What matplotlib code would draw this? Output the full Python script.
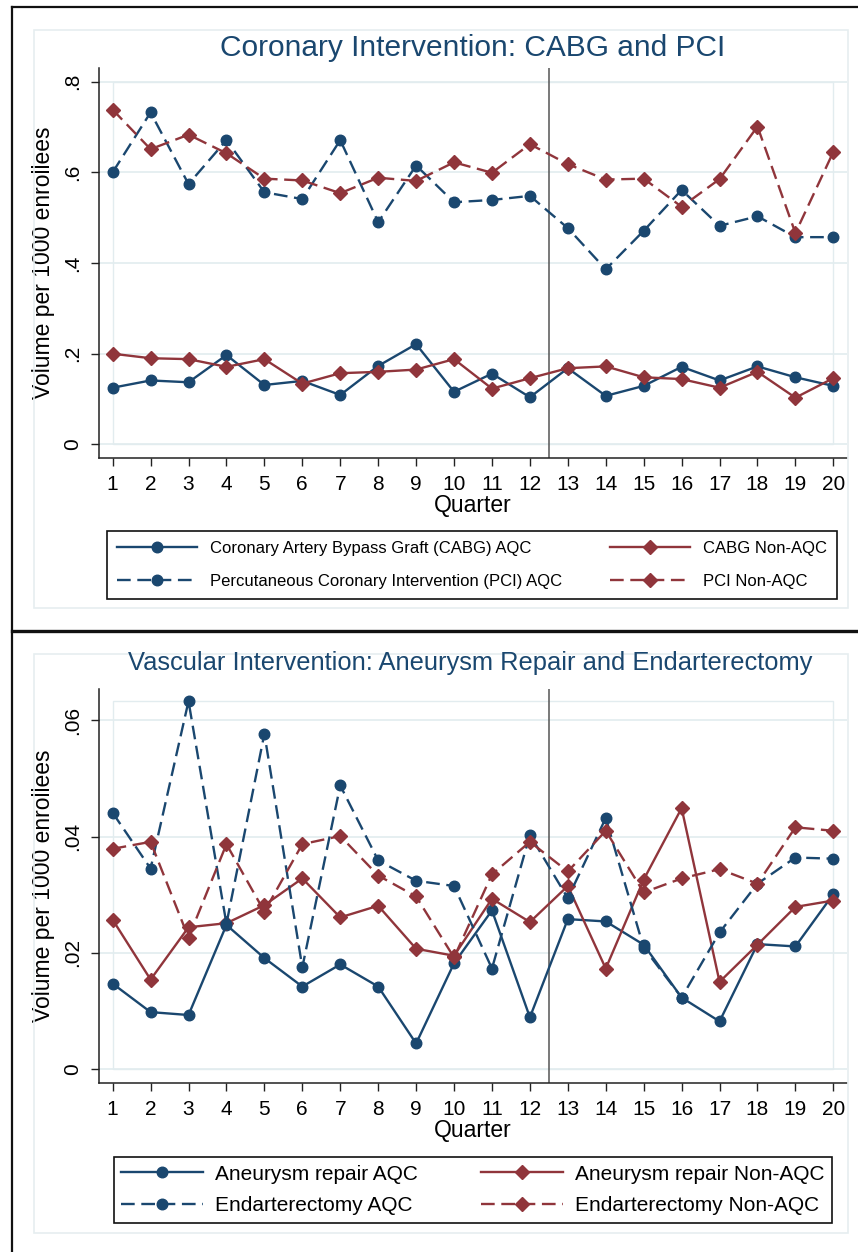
import numpy as np
import matplotlib
matplotlib.use("Agg")
import matplotlib.pyplot as plt
from matplotlib.lines import Line2D
from matplotlib.patches import Rectangle

plt.rcParams['font.family'] = ['Liberation Sans', 'DejaVu Sans']

quarters = list(range(1, 21))

# Coronary panel
cabg_aqc = [0.125, 0.141, 0.137, 0.197, 0.131, 0.140, 0.109, 0.173, 0.221, 0.116,
            0.156, 0.104, 0.168, 0.107, 0.129, 0.171, 0.141, 0.172, 0.148, 0.129]
cabg_non = [0.200, 0.190, 0.188, 0.171, 0.188, 0.134, 0.157, 0.160, 0.165, 0.188,
            0.123, 0.146, 0.168, 0.172, 0.148, 0.144, 0.125, 0.160, 0.103, 0.146]
pci_aqc = [0.600, 0.732, 0.574, 0.671, 0.556, 0.541, 0.671, 0.490, 0.615, 0.534,
           0.539, 0.548, 0.477, 0.386, 0.471, 0.561, 0.482, 0.503, 0.457, 0.457]
pci_non = [0.738, 0.651, 0.683, 0.642, 0.586, 0.582, 0.554, 0.588, 0.581, 0.622,
           0.599, 0.662, 0.618, 0.584, 0.586, 0.524, 0.585, 0.701, 0.466, 0.645]

# Vascular panel
aneur_aqc = [0.0147, 0.0098, 0.0093, 0.0248, 0.0191, 0.0142, 0.0180, 0.0142, 0.0044, 0.0182,
             0.0273, 0.0089, 0.0258, 0.0254, 0.0214, 0.0123, 0.0082, 0.0215, 0.0211, 0.0301]
aneur_non = [0.0257, 0.0154, 0.0244, 0.0251, 0.0282, 0.0328, 0.0261, 0.0281, 0.0207, 0.0195,
             0.0293, 0.0253, 0.0315, 0.0173, 0.0326, 0.0449, 0.0150, 0.0214, 0.0279, 0.0290]
endart_aqc = [0.0441, 0.0345, 0.0633, 0.0250, 0.0577, 0.0175, 0.0488, 0.0359, 0.0324, 0.0315,
              0.0173, 0.0403, 0.0294, 0.0432, 0.0209, 0.0123, 0.0235, 0.0319, 0.0364, 0.0362]
endart_non = [0.0379, 0.0391, 0.0226, 0.0387, 0.0271, 0.0387, 0.0401, 0.0333, 0.0297, 0.0192,
              0.0335, 0.0391, 0.0340, 0.0410, 0.0304, 0.0328, 0.0344, 0.0319, 0.0416, 0.0410]

top_yticks = [0, 0.2, 0.4, 0.6, 0.8]
top_yticklabels = ['0', '.2', '.4', '.6', '.8']
bot_yticks = [0, 0.02, 0.04, 0.06]
bot_yticklabels = ['0', '.02', '.04', '.06']

NAVY = '#1a476f'
MAROON = '#90353b'
GRID = '#e2ecef'
W, H = 858, 1252


def fx(px):
    return px / W


def fy(py):
    return 1 - py / H


def make_axes(fig, top, bottom):
    return fig.add_axes([fx(99), fy(bottom), fx(847) - fx(99), fy(top) - fy(bottom)])


def draw_series(ax, y, color, marker, dashed, label):
    ms = 7.6 if marker == 'o' else 7.4
    kw = dict(color=color, lw=1.7, marker=marker, ms=ms, mfc=color, mec=color, label=label)
    if dashed:
        line, = ax.plot(quarters, y, dashes=(5.8, 2.8), **kw)
    else:
        line, = ax.plot(quarters, y, **kw)
    return line


def style_axes(ax, ylim, yticks, yticklabels, ytop):
    ax.set_xlim(0.64, 20.36)
    ax.set_ylim(*ylim)
    ax.set_xticks(quarters)
    ax.set_xticklabels([str(q) for q in quarters])
    ax.set_yticks(yticks)
    ax.set_yticklabels(yticklabels, rotation=90, va='center')
    for s in ['top', 'right']:
        ax.spines[s].set_visible(False)
    for s in ['left', 'bottom']:
        ax.spines[s].set_color('#222222')
        ax.spines[s].set_linewidth(1.1)
    ax.tick_params(axis='both', direction='out', length=6, width=1.0, color='#222222',
                   labelsize=15, pad=6)
    for t in yticks:
        ax.axhline(t, color=GRID, lw=1.2, zorder=0)
    # faint plot region box
    ax.add_patch(Rectangle((1, 0), 19, ytop, fill=False, ec=GRID, lw=1.0, zorder=0))
    ax.axvline(12.5, color='#555555', lw=1.1, zorder=1)
    ax.set_xlabel('Quarter', fontsize=16.5, labelpad=0)
    ax.set_ylabel('Volume per 1000 enrollees', fontsize=16.5, labelpad=6)


fig = plt.figure(figsize=(W / 100, H / 100), dpi=100)

# panel frames
for (x0, y0, x1, y1) in [(34, 30, 848, 608), (34, 654, 848, 1233)]:
    fig.patches.append(Rectangle((fx(x0), fy(y1)), fx(x1) - fx(x0), fy(y0) - fy(y1),
                                 transform=fig.transFigure, fill=False, ec='#e6eef0', lw=1.2))
fig.lines.append(Line2D([fx(12), fx(12)], [fy(7), 0], transform=fig.transFigure, color='#111111', lw=1.6))
fig.lines.append(Line2D([fx(12), 1], [fy(7), fy(7)], transform=fig.transFigure, color='#111111', lw=1.6))
fig.lines.append(Line2D([fx(12), 1], [fy(631), fy(631)], transform=fig.transFigure, color='#111111', lw=2.4))

# ---- top panel
ax1 = make_axes(fig, 68, 458)
l1 = draw_series(ax1, cabg_aqc, NAVY, 'o', False, 'Coronary Artery Bypass Graft (CABG) AQC')
l2 = draw_series(ax1, cabg_non, MAROON, 'D', False, 'CABG Non-AQC')
l3 = draw_series(ax1, pci_aqc, NAVY, 'o', True, 'Percutaneous Coronary Intervention (PCI) AQC')
l4 = draw_series(ax1, pci_non, MAROON, 'D', True, 'PCI Non-AQC')
style_axes(ax1, (-0.030, 0.830), top_yticks, top_yticklabels, 0.8)
fig.text(fx(473), fy(48), 'Coronary Intervention: CABG and PCI', ha='center', va='center',
         fontsize=21.5, color=NAVY)
leg1 = fig.legend([l1, l3, l2, l4], [l.get_label() for l in [l1, l3, l2, l4]], ncol=2,
                  loc='center', bbox_to_anchor=(fx(107), fy(600), fx(837) - fx(107), fy(530) - fy(600)),
                  mode='expand', fontsize=12, handlelength=4.8, handletextpad=0.8,
                  borderaxespad=0, borderpad=0.6, labelspacing=1.05, fancybox=False,
                  edgecolor='#111111', framealpha=1)
leg1.get_frame().set_linewidth(1.2)

# ---- bottom panel
ax2 = make_axes(fig, 689, 1083)
m1 = draw_series(ax2, aneur_aqc, NAVY, 'o', False, 'Aneurysm repair AQC')
m2 = draw_series(ax2, aneur_non, MAROON, 'D', False, 'Aneurysm repair Non-AQC')
m3 = draw_series(ax2, endart_aqc, NAVY, 'o', True, 'Endarterectomy AQC')
m4 = draw_series(ax2, endart_non, MAROON, 'D', True, 'Endarterectomy Non-AQC')
style_axes(ax2, (-0.0024, 0.0654), bot_yticks, bot_yticklabels, max(endart_aqc))
fig.text(fx(470), fy(663), 'Vascular Intervention: Aneurysm Repair and Endarterectomy', ha='center',
         va='center', fontsize=18.4, color=NAVY)
leg2 = fig.legend([m1, m3, m2, m4], [l.get_label() for l in [m1, m3, m2, m4]], ncol=2,
                  loc='center', bbox_to_anchor=(fx(114), fy(1225), fx(832) - fx(114), fy(1155) - fy(1225)),
                  mode='expand', fontsize=15, handlelength=3.9, handletextpad=0.6,
                  borderaxespad=0, borderpad=0.35, labelspacing=0.6, fancybox=False,
                  edgecolor='#111111', framealpha=1)
leg2.get_frame().set_linewidth(1.2)

fig.savefig('out.png', dpi=100)
